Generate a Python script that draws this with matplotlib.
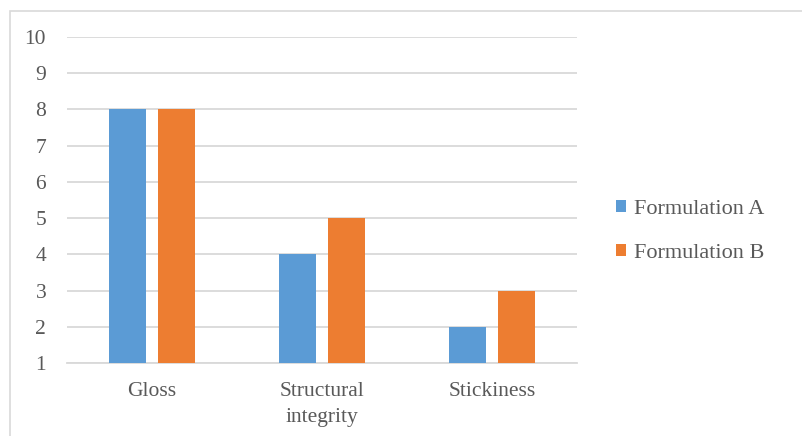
import matplotlib
matplotlib.use("Agg")
import matplotlib.pyplot as plt
from matplotlib.patches import Rectangle
import numpy as np

categories = ["Gloss", "Structural\nintegrity", "Stickiness"]
series_names = ["Formulation A", "Formulation B"]
formulation_a = [8, 4, 2]
formulation_b = [8, 5, 3]
y_ticks = [1, 2, 3, 4, 5, 6, 7, 8, 9, 10]

plt.rcParams["font.family"] = "serif"
plt.rcParams["font.serif"] = ["Liberation Serif", "DejaVu Serif"]
text_color = "#595959"
grid_color = "#d9d9d9"

fig = plt.figure(figsize=(8.02, 4.36), dpi=100)
fig.patches.append(Rectangle((10 / 802, -0.1), 1.0, 1 - 11 / 436 + 0.1,
                             transform=fig.transFigure, fill=False,
                             edgecolor=grid_color, linewidth=1.2))

ax = fig.add_axes([67 / 802, 1 - 363 / 436, 510 / 802, (363 - 37) / 436])

x = np.arange(len(categories))
width = 0.218
offset = 0.144
base = 1
ax.bar(x - offset, np.array(formulation_a) - base, width, bottom=base,
       color="#5B9BD5", label=series_names[0], zorder=3)
ax.bar(x + offset, np.array(formulation_b) - base, width, bottom=base,
       color="#ED7D31", label=series_names[1], zorder=3)

ax.set_xlim(-0.5, len(categories) - 0.5)
ax.set_ylim(1, 10)
ax.set_yticks(y_ticks)
ax.set_xticks(x)
ax.set_xticklabels(categories, linespacing=1.45)
ax.yaxis.grid(True, color=grid_color, linewidth=1.3, zorder=0)
for side in ["top", "right", "left"]:
    ax.spines[side].set_visible(False)
ax.spines["bottom"].set_color(grid_color)
ax.spines["bottom"].set_linewidth(1.3)
ax.tick_params(axis="both", length=0, labelsize=15.5, colors=text_color)
ax.tick_params(axis="x", pad=14)
ax.tick_params(axis="y", pad=15)

leg = ax.legend(loc="center left", bbox_to_anchor=(1.038, 0.404), frameon=False,
                fontsize=16, handlelength=0.45, handleheight=0.45,
                handletextpad=0.35, labelspacing=1.15)
for t in leg.get_texts():
    t.set_color(text_color)

fig.savefig("out.png", dpi=100)
